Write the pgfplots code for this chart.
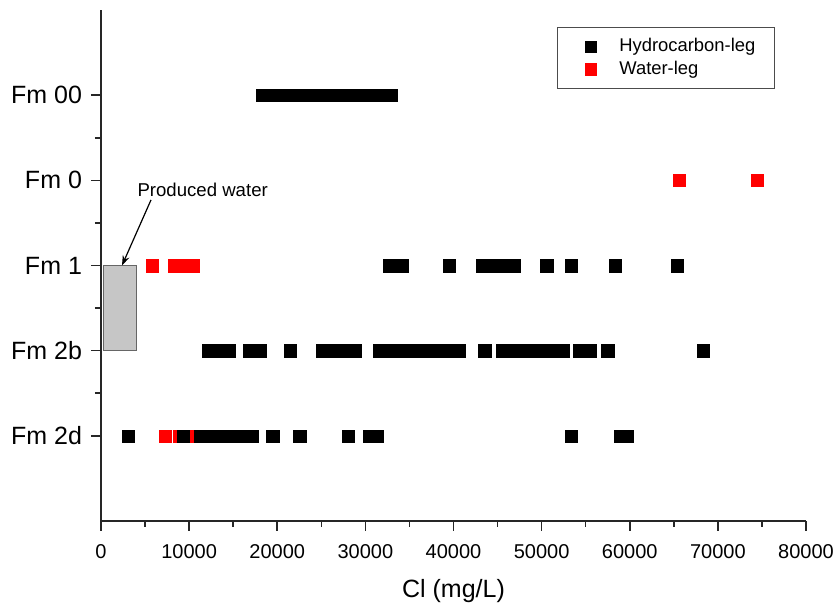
\documentclass[border=0pt]{standalone}
\usepackage{fontspec}
\setmainfont{Liberation Sans}
\usepackage{pgfplots}
\pgfplotsset{compat=1.18}
\usetikzlibrary{arrows.meta}
\begin{document}
\begin{tikzpicture}
\path[use as bounding box] (-50.5pt,-41.5pt) rectangle (367.5pt,260.5pt);
\begin{axis}[
  at={(0,0)}, anchor=south west,
  scale only axis, width=352.5pt, height=255.5pt,
  xmin=0, xmax=80000, ymin=0, ymax=6,
  axis lines=left,
  axis line style={-, line width=0.9pt, black!85},
  tick style={line width=0.8pt, black!85},
  tick align=outside,
  major tick length=5pt, minor tick length=3pt,
  xtick={0,10000,...,80000}, minor x tick num=1,
  ytick={1,2,3,4,5}, yticklabels={Fm 2d,Fm 2b,Fm 1,Fm 0,Fm 00},
  minor y tick num=1,
  scaled x ticks=false,
  /pgf/number format/assume math mode=true,
  /pgf/number format/1000 sep={},
  xticklabel style={font=\fontsize{10}{12}\selectfont, yshift=-3pt},
  yticklabel style={font=\fontsize{12.5}{14}\selectfont, xshift=-1pt},
  xlabel={Cl (mg/L)},
  xlabel style={font=\fontsize{12.5}{15}\selectfont, yshift=-3.5pt},
  legend style={at={(0.956,0.967)}, anchor=north east,
    font=\fontsize{9.2}{11}\selectfont, draw=black!70, line width=0.6pt,
    inner xsep=7.5pt, inner ysep=3.5pt, row sep=-1pt,
    /tikz/every odd column/.append style={column sep=9.5pt}},
  legend cell align=left,
  reverse legend,
  legend image code/.code={\path (0pt,0pt); \draw[#1, mark size=2.9pt] plot[only marks] coordinates {(0.3cm,0cm)};},
]
\addplot[fill=gray!45, draw=black!60, line width=0.5pt, forget plot]
  coordinates {(300,2) (4000,2) (4000,3) (300,3)} -- cycle;
\addplot[only marks, mark=square*, mark size=3.1pt, color=red, mark options={line width=0.1pt}]
  coordinates {
  (65590,4) (74440,4)
  (5800,3) (8340,3) (9950,3) (10450,3)
  (7260,1) (8850,1) (10740,1)
  };
\addlegendentry{Water-leg}
\addplot[only marks, mark=square*, mark size=3.1pt, color=black, mark options={line width=0.1pt}]
  coordinates {
  (18300,5) (19000,5) (19700,5) (20400,5) (21100,5) (21800,5) (22500,5) (23200,5)
  (23900,5) (24600,5) (25300,5) (26000,5) (26700,5) (27400,5) (28100,5) (28800,5)
  (29500,5) (30000,5) (31430,5) (32900,5)
  (32700,3) (34100,3) (39500,3) (43300,3) (44300,3) (45400,3) (46850,3) (50560,3)
  (53340,3) (58330,3) (65360,3)
  (12230,2) (12900,2) (13600,2) (14470,2) (16800,2) (18010,2) (21450,2)
  (25130,2) (25800,2) (26500,2) (27200,2) (27900,2) (28820,2)
  (31550,2) (32300,2) (33000,2) (33700,2) (34400,2) (35100,2) (35800,2) (36500,2)
  (37200,2) (37900,2) (38600,2) (39090,2) (40590,2) (43520,2)
  (45580,2) (46400,2) (47200,2) (48060,2) (49480,2) (50200,2) (51000,2) (51700,2)
  (52430,2) (54240,2) (54850,2) (55450,2) (57510,2) (68310,2)
  (3060,1) (9340,1) (11240,1) (11900,1) (12600,1) (13300,1) (14000,1) (14700,1)
  (15660,1) (17170,1) (19460,1) (22530,1) (28030,1) (30410,1) (31260,1)
  (53370,1) (58950,1) (59710,1)
  };
\addlegendentry{Hydrocarbon-leg}
\node[font=\fontsize{9.3}{11}\selectfont] at (axis cs:11540,3.89) {Produced water};
\draw[-{Stealth[length=5pt,width=3.5pt]}, line width=0.6pt] (axis cs:5674,3.77) -- (axis cs:2383,3.0);
\end{axis}
\end{tikzpicture}
\end{document}
